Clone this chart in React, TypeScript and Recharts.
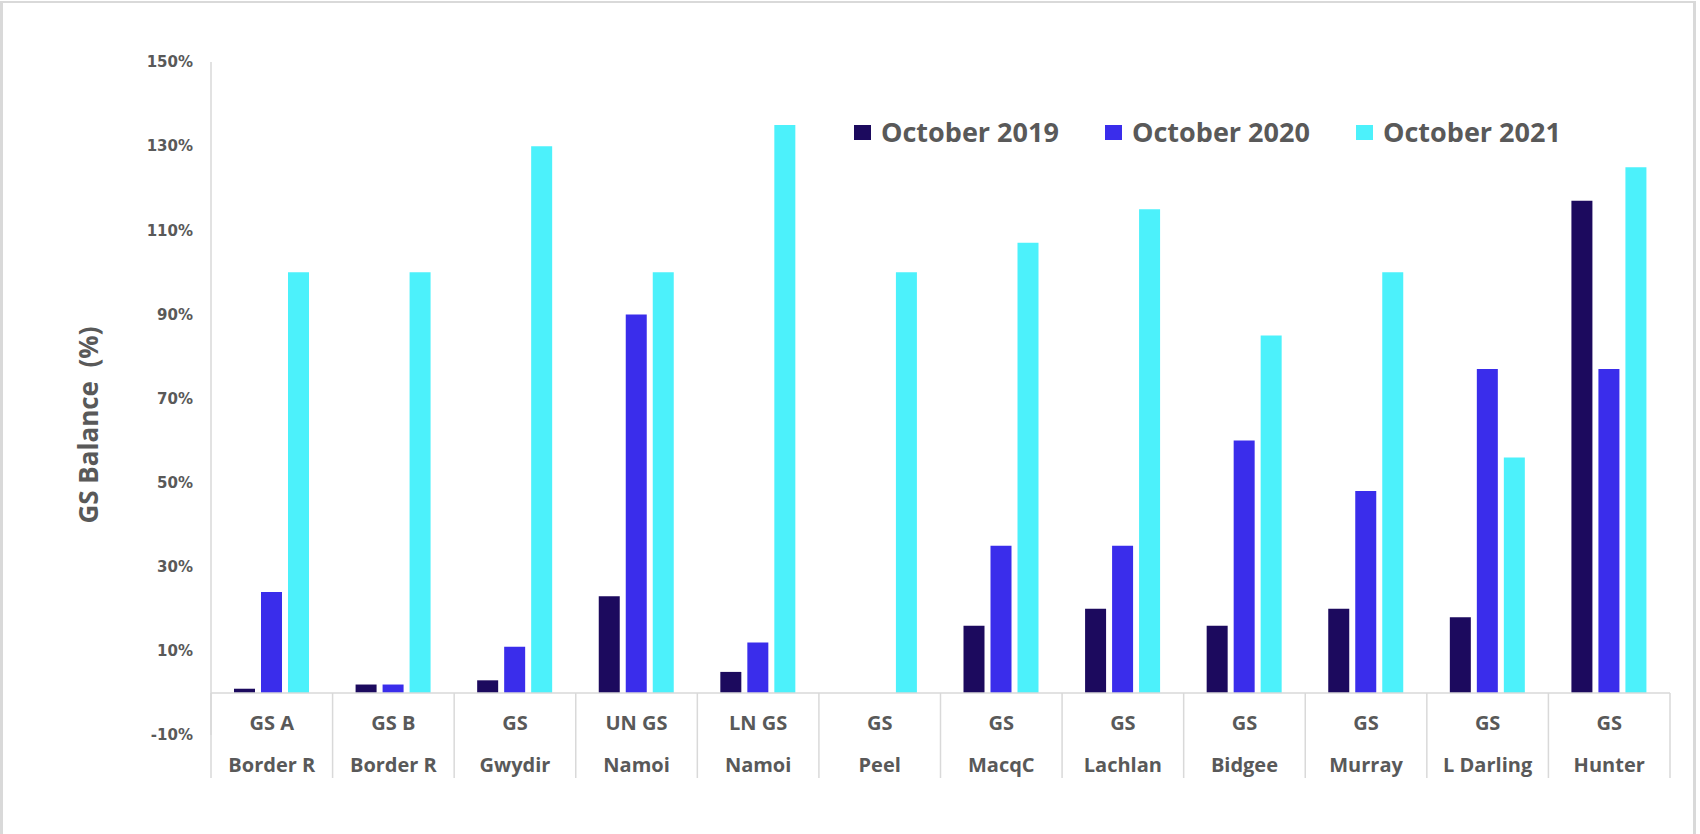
import { BarChart, Bar, XAxis, YAxis, ReferenceLine } from 'recharts'

const topLabels = ['GS A', 'GS B', 'GS', 'UN GS', 'LN GS', 'GS', 'GS', 'GS', 'GS', 'GS', 'GS', 'GS']
const valleys = ['Border R', 'Border R', 'Gwydir', 'Namoi', 'Namoi', 'Peel', 'MacqC', 'Lachlan', 'Bidgee', 'Murray', 'L Darling', 'Hunter']
const oct2019 = [1, 2, 3, 23, 5, 0, 16, 20, 16, 20, 18, 117]
const oct2020 = [24, 2, 11, 90, 12, 0, 35, 35, 60, 48, 77, 77]
const oct2021 = [100, 100, 130, 100, 135, 100, 107, 115, 85, 100, 56, 125]
const yTicks = [-10, 10, 30, 50, 70, 90, 110, 130, 150]

const series = [
  { key: 'oct2019', name: 'October 2019', color: '#1c0a5e' },
  { key: 'oct2020', name: 'October 2020', color: '#3a2deb' },
  { key: 'oct2021', name: 'October 2021', color: '#4cf1fb' },
]

const data = valleys.map((v, i) => ({
  id: `${topLabels[i]}|${v}|${i}`,
  top: topLabels[i],
  valley: v,
  oct2019: oct2019[i],
  oct2020: oct2020[i],
  oct2021: oct2021[i],
}))

const W = 1700
const H = 834
const LEFT = 211
const RIGHT_M = 30
const TOP = 62
const X_H = 20
const BOTTOM_M = 99 - X_H
const BAND = (W - LEFT - RIGHT_M) / valleys.length
const GRID = '#d9d9d9'
const TEXT = '#595959'

// tick y arrives at plot bottom (-10%); zero line sits 42px above it
function CategoryTick(props: any) {
  const { x, y, index } = props
  const d = data[index]
  const last = index === data.length - 1
  const base = y
  return (
    <g>
      <line x1={x - BAND / 2} x2={x - BAND / 2} y1={base - 42} y2={base + 43} stroke={GRID} strokeWidth={1.5} />
      {last && <line x1={x + BAND / 2} x2={x + BAND / 2} y1={base - 42} y2={base + 43} stroke={GRID} strokeWidth={1.5} />}
      <text x={x} y={base - 13} textAnchor="middle" dominantBaseline="central" fill={TEXT}
        style={{ fontFamily: '"Open Sans"', fontWeight: 700, fontSize: 20 }}>{d.top}</text>
      <text x={x} y={base + 29} textAnchor="middle" dominantBaseline="central" fill={TEXT}
        style={{ fontFamily: '"Open Sans"', fontWeight: 700, fontSize: 20 }}>{d.valley}</text>
    </g>
  )
}

function YTitle() {
  return (
    <text x={88} y={425} transform="rotate(-90 88 425)" textAnchor="middle" dominantBaseline="central" fill={TEXT}
      style={{ fontFamily: '"Open Sans"', fontWeight: 700, fontSize: 26, whiteSpace: 'pre' }}>
      GS Balance  (%)
    </text>
  )
}

export default function App() {
  return (
    <div style={{ position: 'absolute', left: 0, top: 0, width: W, height: H, background: '#fff', overflow: 'hidden' }}>
      <div style={{ position: 'absolute', left: 0, top: 1, width: 1696, height: 900, borderTop: `2px solid ${GRID}`, borderLeft: `3px solid ${GRID}`, borderRight: `3px solid ${GRID}`, boxSizing: 'border-box' }} />
      <div style={{ position: 'absolute', left: 0, top: 0 }}>
        <BarChart width={W} height={H} data={data} margin={{ top: TOP, right: RIGHT_M, bottom: BOTTOM_M, left: 0 }} barSize={21} barGap={6}>
          <YAxis
            type="number"
            domain={[-10, 150]}
            ticks={yTicks}
            interval={0}
            width={LEFT}
            tickFormatter={v => `${v}%`}
            tickLine={false}
            tickSize={0}
            tickMargin={18}
            axisLine={{ stroke: GRID, strokeWidth: 1.5 }}
            tick={{ fill: TEXT, fontSize: 15, fontWeight: 700, fontFamily: '"DejaVu Sans"' }}
            label={{ content: () => <YTitle /> }}
          />
          <XAxis
            dataKey="id"
            height={X_H}
            interval={0}
            axisLine={false}
            tickLine={false}
            tickSize={0}
            tickMargin={0}
            tick={<CategoryTick />}
          />
          <ReferenceLine y={0} stroke={GRID} strokeWidth={1.5} />
          {series.map(s => (
            <Bar key={s.key} dataKey={s.key} name={s.name} fill={s.color} isAnimationActive={false} />
          ))}
        </BarChart>
      </div>
      <div style={{ position: 'absolute', left: 854, top: 116, display: 'flex', alignItems: 'center', fontFamily: '"Open Sans"', fontWeight: 700, fontSize: 27, color: TEXT, lineHeight: '32px' }}>
        {series.map(s => (
          <div key={s.key} style={{ display: 'flex', alignItems: 'center', width: 251 }}>
            <span style={{ width: 17, height: 15, background: s.color, marginRight: 10, display: 'inline-block' }} />
            <span>{s.name}</span>
          </div>
        ))}
      </div>
    </div>
  )
}
